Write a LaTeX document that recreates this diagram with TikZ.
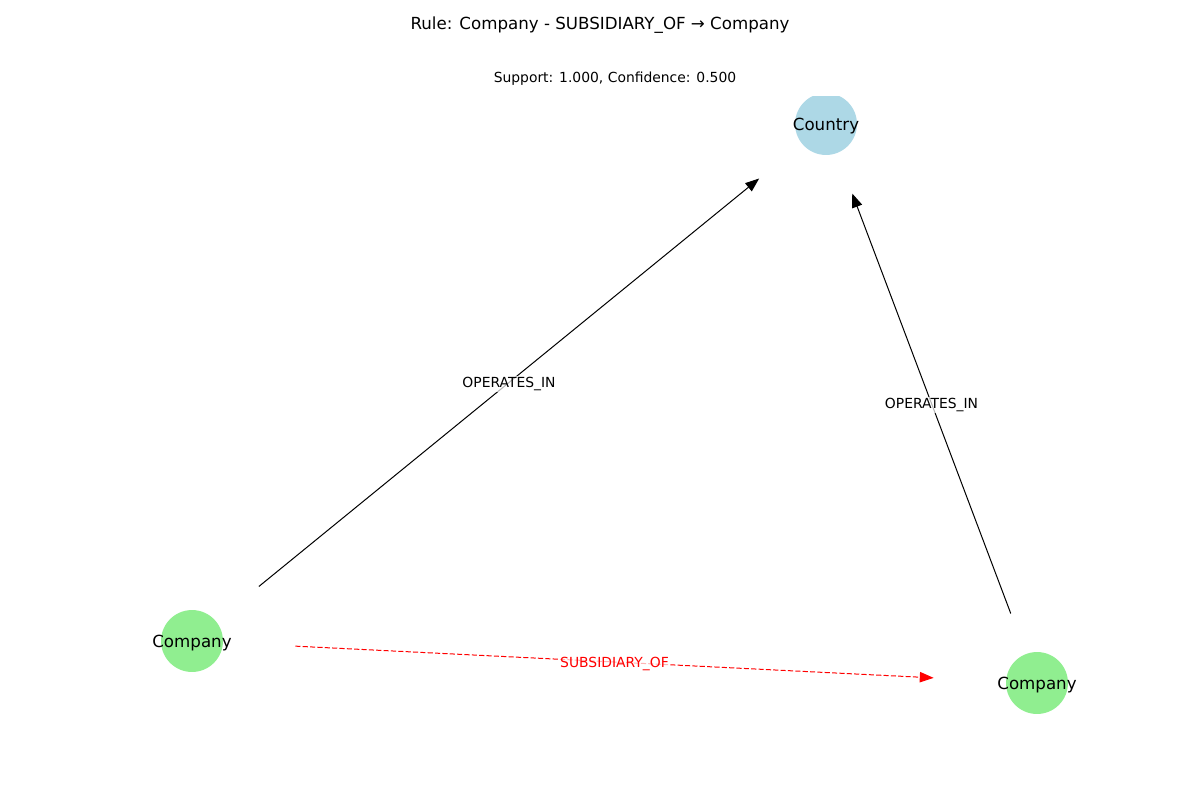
\documentclass[tikz,border=0pt]{standalone}
\usepackage{fontspec}
\setmainfont{DejaVu Sans}
\usetikzlibrary{arrows.meta,shapes}
\definecolor{lgreen}{HTML}{90EE90}
\definecolor{lblue}{HTML}{ADD8E6}
\tikzset{
  entity/.style = {circle, inner sep=0pt, minimum size=44.6pt,
    font=\fontsize{12}{14}\selectfont},
  ent_c/.style = {entity, fill=lgreen},% company
  ent_k/.style = {entity, fill=lblue},% country
  rel/.style = {-{Triangle[length=10pt,width=7.5pt]}, line width=0.72pt},
  rel_r/.style = {rel, red, dash pattern=on 3.7pt off 1.6pt},% rule edge
  rel_lbl/.style = {fill=white, fill opacity=0.7, text opacity=1,
    inner sep=1pt, yshift=-1.2pt, font=\fontsize{10}{12}\selectfont}
}
\newcommand{\nowidth}[1]{\makebox[0pt]{\raisebox{-1.4pt}[\height][\depth]{#1}}}

\begin{document}
\begin{tikzpicture}[x=0.72pt,y=-0.72pt]
\useasboundingbox (0,0) rectangle (1200,800);
\node (title) at (600,25.5) {\fontsize{12}{14}\selectfont Rule: Company - SUBSIDIARY\_OF → Company};
\node (stats) at (615,78.5) {\fontsize{10}{12}\selectfont Support: 1.000, Confidence: 0.500};
\begin{scope}
  \clip (0,96) rectangle (1200,714);
  \node [ent_k] (country) at (826,124) {\nowidth{Country}};
  \node [ent_c] (compA) at (192,641) {\nowidth{Company}};
  \node [ent_c] (compB) at (1037,683) {\nowidth{Company}};
\end{scope}
\draw [rel, shorten <=39.6pt, shorten >=39.6pt] (compA) -- (country)
  node [rel_lbl, midway] {OPERATES\_IN};
\draw [rel, shorten <=31pt, shorten >=31pt] (compB) -- (country)
  node [rel_lbl, midway] {OPERATES\_IN};
\draw [rel_r, shorten <=52pt, shorten >=52pt] (compA) -- (compB)
  node [rel_lbl, midway, text=red] {SUBSIDIARY\_OF};
\end{tikzpicture}
\end{document}
